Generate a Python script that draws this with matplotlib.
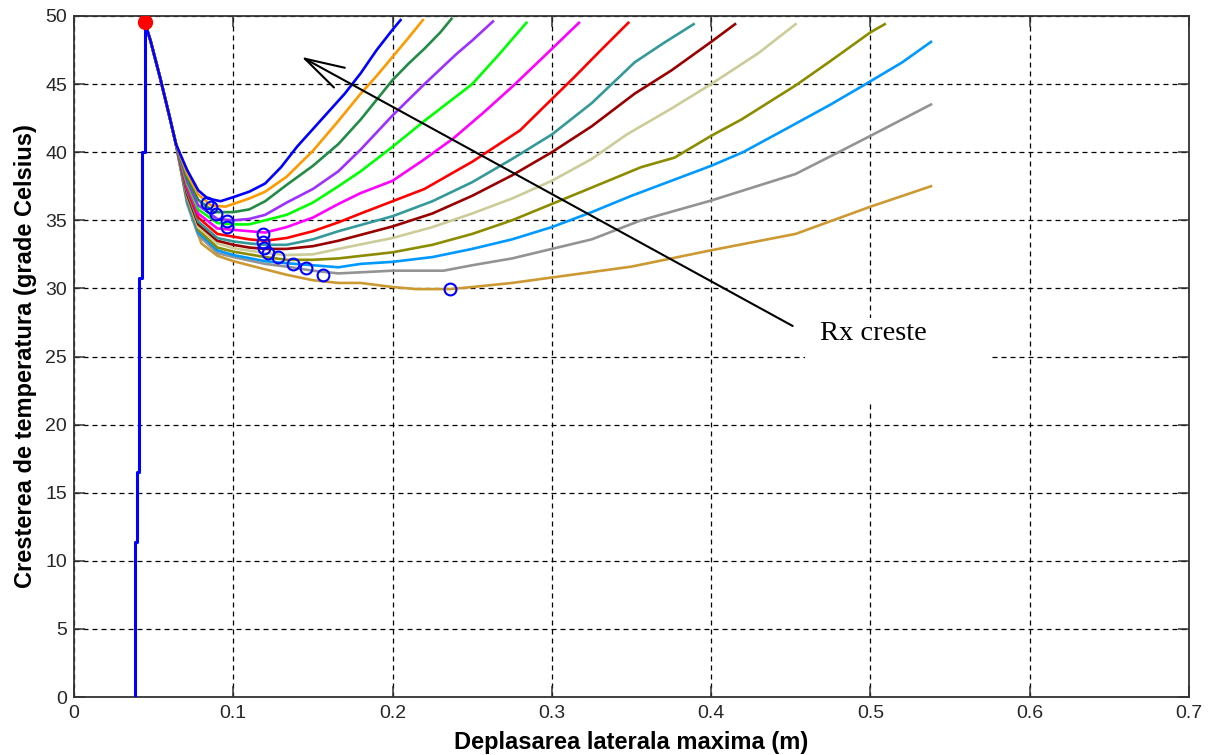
import numpy as np
import matplotlib
matplotlib.use("Agg")
import matplotlib.pyplot as plt
from matplotlib.patches import Rectangle, ArrowStyle
from matplotlib.ticker import FormatStrFormatter

# vertical rise (blue) up to the starting point
rise_x = [0.0383, 0.0383, 0.0393, 0.0393, 0.0411, 0.0411, 0.0428, 0.0428, 0.0445, 0.0445]
rise_y = [0.0, 11.4, 11.4, 16.5, 16.5, 30.8, 30.8, 40.0, 40.0, 49.5]

# common descent of all curves from the start point
descent_x = [0.0445, 0.048, 0.054, 0.060, 0.064]
descent_y = [49.5, 48.2, 45.5, 42.6, 40.6]

blue_x = [0.071, 0.078, 0.084, 0.092, 0.100, 0.110, 0.120, 0.130, 0.140, 0.150, 0.160, 0.170, 0.180, 0.190, 0.200, 0.205]
blue_y = [38.7, 37.2, 36.6, 36.4, 36.7, 37.1, 37.7, 38.9, 40.4, 41.7, 43.0, 44.3, 45.8, 47.5, 49.0, 49.7]

orange_x = [0.071, 0.078, 0.086, 0.095, 0.100, 0.110, 0.120, 0.1335, 0.150, 0.166, 0.180, 0.190, 0.200, 0.210, 0.219]
orange_y = [38.4, 36.9, 36.1, 36.0, 36.2, 36.6, 37.1, 38.2, 40.1, 42.3, 44.3, 45.6, 47.0, 48.4, 49.7]

green_x = [0.071, 0.078, 0.088, 0.100, 0.110, 0.120, 0.1335, 0.150, 0.166, 0.180, 0.200, 0.210, 0.220, 0.230, 0.237]
green_y = [38.1, 36.5, 35.6, 35.6, 35.8, 36.4, 37.6, 39.0, 40.6, 42.4, 45.3, 46.5, 47.6, 48.8, 49.8]

purple_x = [0.071, 0.078, 0.090, 0.100, 0.110, 0.120, 0.1335, 0.150, 0.166, 0.180, 0.200, 0.220, 0.240, 0.250, 0.263]
purple_y = [37.9, 36.1, 35.1, 35.0, 35.1, 35.4, 36.3, 37.3, 38.6, 40.2, 42.7, 45.0, 47.2, 48.2, 49.6]

lime_x = [0.071, 0.078, 0.090, 0.100, 0.110, 0.120, 0.1335, 0.150, 0.166, 0.180, 0.200, 0.220, 0.250, 0.267, 0.284]
lime_y = [37.7, 35.8, 34.8, 34.7, 34.7, 35.0, 35.4, 36.3, 37.5, 38.6, 40.4, 42.3, 45.0, 47.2, 49.5]

magenta_x = [0.071, 0.078, 0.090, 0.100, 0.110, 0.120, 0.1335, 0.150, 0.166, 0.180, 0.200, 0.219, 0.238, 0.257, 0.276, 0.293, 0.317]
magenta_y = [37.5, 35.5, 34.4, 34.3, 34.2, 34.1, 34.5, 35.2, 36.2, 37.0, 37.9, 39.4, 41.0, 42.9, 44.9, 46.8, 49.5]

red_x = [0.071, 0.078, 0.090, 0.100, 0.110, 0.120, 0.1335, 0.150, 0.166, 0.180, 0.200, 0.220, 0.250, 0.280, 0.300, 0.314, 0.330, 0.348]
red_y = [37.3, 35.2, 34.0, 33.8, 33.6, 33.5, 33.7, 34.2, 34.85, 35.5, 36.4, 37.3, 39.3, 41.6, 43.9, 45.5, 47.4, 49.5]

teal_x = [0.071, 0.078, 0.090, 0.100, 0.110, 0.120, 0.1335, 0.150, 0.166, 0.200, 0.225, 0.250, 0.275, 0.300, 0.325, 0.352, 0.370, 0.389]
teal_y = [37.1, 34.9, 33.7, 33.45, 33.3, 33.2, 33.2, 33.6, 34.2, 35.3, 36.4, 37.8, 39.5, 41.3, 43.6, 46.6, 48.0, 49.4]

maroon_x = [0.071, 0.078, 0.090, 0.100, 0.110, 0.120, 0.1335, 0.150, 0.166, 0.200, 0.225, 0.250, 0.275, 0.300, 0.325, 0.352, 0.375, 0.400, 0.415]
maroon_y = [36.9, 34.7, 33.5, 33.2, 33.0, 32.9, 32.9, 33.1, 33.5, 34.55, 35.5, 36.8, 38.3, 40.0, 41.9, 44.3, 46.0, 48.1, 49.4]

khaki_x = [0.071, 0.078, 0.090, 0.100, 0.120, 0.1335, 0.150, 0.166, 0.200, 0.225, 0.250, 0.275, 0.300, 0.325, 0.347, 0.375, 0.400, 0.430, 0.453]
khaki_y = [36.8, 34.5, 33.3, 32.95, 32.6, 32.45, 32.5, 32.9, 33.7, 34.5, 35.5, 36.6, 37.9, 39.5, 41.3, 43.2, 45.0, 47.3, 49.4]

olive_x = [0.071, 0.078, 0.090, 0.100, 0.120, 0.1335, 0.150, 0.166, 0.200, 0.225, 0.250, 0.275, 0.300, 0.325, 0.356, 0.377, 0.400, 0.419, 0.453, 0.475, 0.500, 0.509]
olive_y = [36.6, 34.3, 33.0, 32.7, 32.3, 32.1, 32.1, 32.2, 32.65, 33.2, 34.0, 35.0, 36.2, 37.4, 38.9, 39.6, 41.2, 42.4, 44.9, 46.7, 48.8, 49.4]

lightblue_x = [0.071, 0.078, 0.090, 0.100, 0.120, 0.1335, 0.150, 0.166, 0.180, 0.200, 0.225, 0.250, 0.275, 0.300, 0.325, 0.350, 0.375, 0.400, 0.420, 0.450, 0.475, 0.497, 0.520, 0.538]
lightblue_y = [36.4, 34.1, 32.8, 32.45, 32.0, 31.85, 31.7, 31.55, 31.8, 31.95, 32.3, 32.9, 33.6, 34.5, 35.6, 36.8, 37.9, 39.0, 40.0, 41.9, 43.5, 45.0, 46.6, 48.1]

gray_x = [0.071, 0.078, 0.090, 0.100, 0.120, 0.1335, 0.150, 0.166, 0.200, 0.232, 0.250, 0.275, 0.300, 0.325, 0.356, 0.400, 0.453, 0.480, 0.500, 0.538]
gray_y = [36.2, 33.9, 32.6, 32.3, 31.8, 31.6, 31.3, 31.1, 31.3, 31.3, 31.7, 32.2, 32.9, 33.6, 35.0, 36.45, 38.4, 40.0, 41.2, 43.5]

gold_x = [0.069, 0.074, 0.080, 0.090, 0.100, 0.120, 0.1335, 0.150, 0.166, 0.180, 0.200, 0.215, 0.236, 0.250, 0.275, 0.300, 0.325, 0.350, 0.375, 0.400, 0.453, 0.500, 0.538]
gold_y = [37.6, 35.3, 33.3, 32.4, 32.0, 31.4, 31.0, 30.6, 30.4, 30.4, 30.1, 29.95, 29.95, 30.1, 30.4, 30.8, 31.2, 31.6, 32.2, 32.8, 34.0, 36.0, 37.5]

# minimum of each curve
min_x = [0.0834, 0.0859, 0.0890, 0.0959, 0.0959, 0.1185, 0.1185, 0.1190, 0.1216, 0.1280, 0.1373, 0.1455, 0.1565, 0.2360]
min_y = [36.27, 35.98, 35.46, 34.95, 34.51, 34.00, 33.41, 32.97, 32.60, 32.30, 31.80, 31.50, 31.00, 29.96]

start_x, start_y = 0.0445, 49.55

arrow_tail = (0.4512, 27.24)
arrow_tip = (0.1428, 47.0)
label_pos = (0.5018, 26.7)
label_box = (0.4591, 21.6, 0.1173, 6.25)  # x, y, width, height

curves = [
    (blue_x, blue_y, "#0000ff"),
    (orange_x, orange_y, "#ff9900"),
    (green_x, green_y, "#228c46"),
    (purple_x, purple_y, "#9b30ff"),
    (lime_x, lime_y, "#00ff00"),
    (magenta_x, magenta_y, "#ff00ff"),
    (red_x, red_y, "#ff0000"),
    (teal_x, teal_y, "#339999"),
    (maroon_x, maroon_y, "#990000"),
    (khaki_x, khaki_y, "#cccc99"),
    (olive_x, olive_y, "#8c8c00"),
    (lightblue_x, lightblue_y, "#0099ff"),
    (gray_x, gray_y, "#939393"),
    (gold_x, gold_y, "#cc9933"),
]

fig = plt.figure(figsize=(12.09, 7.55), dpi=100)
ax = fig.add_axes([74 / 1209, 1 - 697 / 755, (1189 - 74) / 1209, (697 - 16) / 755])

for cx, cy, col in reversed(curves):
    ax.plot(np.r_[descent_x, cx], np.r_[descent_y, cy], color=col, lw=1.9, zorder=3)

ax.plot(rise_x, rise_y, color="#0000ff", lw=2.2, zorder=4)
ax.plot(min_x, min_y, "o", mfc="none", mec="#0000ff", ms=8.5, mew=1.5, zorder=5)
ax.plot(start_x, start_y, "o", color="#ff0000", ms=10, zorder=6)

ax.add_patch(Rectangle(label_box[:2], label_box[2], label_box[3], facecolor="white",
                       edgecolor="none", zorder=2))
ax.text(*label_pos, "Rx creste", family="Liberation Serif", fontsize=20.5,
        ha="center", va="center", zorder=7)
ax.annotate("", xy=arrow_tip, xytext=arrow_tail,
            arrowprops=dict(arrowstyle=ArrowStyle("->", head_length=28.4, head_width=8.1),
                            mutation_scale=1, color="black", lw=1.5,
                            shrinkA=0, shrinkB=0),
            zorder=8)

ax.set_xlim(0, 0.7)
ax.set_ylim(0, 50)
ax.set_xticks(np.arange(0, 0.71, 0.1))
ax.set_yticks(np.arange(0, 51, 5))
ax.xaxis.set_major_formatter(FormatStrFormatter("%g"))
ax.grid(True, color="black", lw=0.9, ls=(0, (4.0, 3.2)), zorder=1)
ax.set_axisbelow(True)

for sp in ax.spines.values():
    sp.set_color("#333333")
    sp.set_linewidth(1.3)
ax.tick_params(direction="in", length=8, width=1.1, color="#333333",
               top=True, right=True, labelsize=14, labelcolor="#262626")
ax.tick_params(axis="x", pad=6)
ax.tick_params(axis="y", pad=5)
for lab in ax.get_xticklabels() + ax.get_yticklabels():
    lab.set_family("Liberation Sans")

ax.set_xlabel("Deplasarea laterala maxima (m)", family="Liberation Sans",
              fontsize=17, fontweight="bold", labelpad=6)
ax.set_ylabel("Cresterea de temperatura (grade Celsius)", family="Liberation Sans",
              fontsize=17, fontweight="bold", labelpad=6)

fig.savefig("out.png", dpi=100)
